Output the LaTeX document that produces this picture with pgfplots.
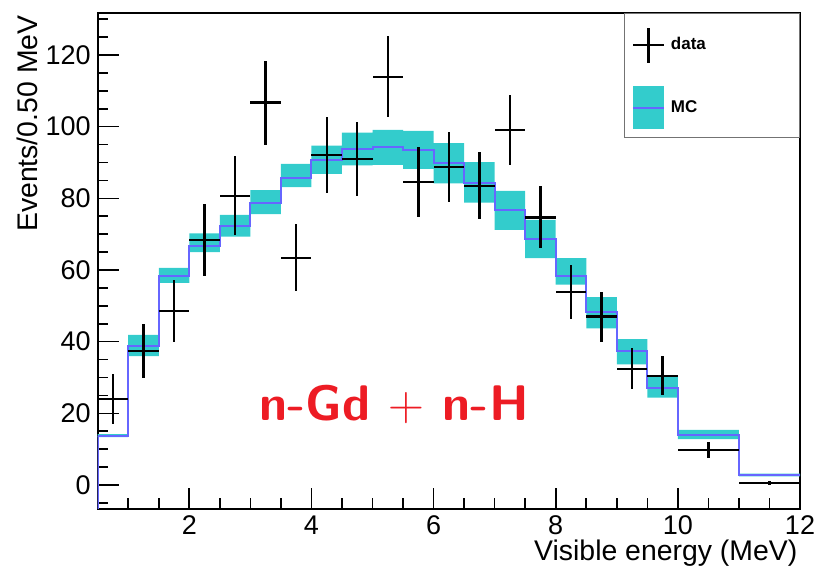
\documentclass[border=0pt]{standalone}
\usepackage{pgfplots}
\pgfplotsset{compat=1.18}
\usepackage{pgfplotstable}
\usepackage{fontspec}
\setmainfont{Liberation Sans}
\definecolor{mccyan}{RGB}{51,204,204}
\definecolor{mcblue}{RGB}{102,102,255}
\definecolor{gdred}{RGB}{237,28,36}

\pgfplotstableread{
x     y      ex    ey
0.75  24.0   0.25  7.0
1.25  37.4   0.25  7.6
1.75  48.6   0.25  8.6
2.25  68.4   0.25  10.0
2.75  80.7   0.25  11.0
3.25  106.7  0.25  11.7
3.75  63.4   0.25  9.3
4.25  92.1   0.25  10.6
4.75  91.0   0.25  10.4
5.25  113.9  0.25  11.3
5.75  84.5   0.25  9.8
6.25  88.7   0.25  9.8
6.75  83.5   0.25  9.4
7.25  99.0   0.25  9.8
7.75  74.7   0.25  8.7
8.25  53.8   0.25  7.5
8.75  47.0   0.25  7.0
9.25  32.4   0.25  5.7
9.75  30.5   0.25  5.5
10.5  9.8    0.5   2.2
11.5  0.5    0.5   0.5
}\datatab

% MC central value (bin left edge; last row closes the last bin)
\pgfplotstableread{
x     mc
0.5   13.8
1.0   38.9
1.5   58.3
2.0   66.8
2.5   72.4
3.0   78.8
3.5   85.8
4.0   90.7
4.5   93.8
5.0   94.3
5.5   93.6
6.0   89.9
6.5   84.4
7.0   76.8
7.5   68.6
8.0   58.3
8.5   48.2
9.0   37.4
9.5   27.2
10.0  14.0
11.0  2.8
12.0  2.8
}\mctab

% MC uncertainty band outline: upper edge forward, lower edge backward
\pgfplotstableread{
x     y
0.5   14.2
1.0   14.2
1.0   41.9
1.5   41.9
1.5   60.6
2.0   60.6
2.0   70.2
2.5   70.2
2.5   75.4
3.0   75.4
3.0   82.3
3.5   82.3
3.5   89.6
4.0   89.6
4.0   94.7
4.5   94.7
4.5   98.3
5.0   98.3
5.0   99.1
5.5   99.1
5.5   98.8
6.0   98.8
6.0   95.4
6.5   95.4
6.5   90.1
7.0   90.1
7.0   82.1
7.5   82.1
7.5   74.0
8.0   74.0
8.0   63.3
8.5   63.3
8.5   52.4
9.0   52.4
9.0   40.7
9.5   40.7
9.5   30.7
10.0  30.7
10.0  15.4
11.0  15.4
11.0  3.2
12.0  3.2
12.0  2.4
11.0  2.4
11.0  12.8
10.0  12.8
10.0  24.4
9.5   24.4
9.5   33.7
9.0   33.7
9.0   43.7
8.5   43.7
8.5   55.9
8.0   55.9
8.0   63.3
7.5   63.3
7.5   71.2
7.0   71.2
7.0   78.8
6.5   78.8
6.5   84.2
6.0   84.2
6.0   88.2
5.5   88.2
5.5   89.3
5.0   89.3
5.0   89.2
4.5   89.2
4.5   86.8
4.0   86.8
4.0   83.1
3.5   83.1
3.5   75.6
3.0   75.6
3.0   69.3
2.5   69.3
2.5   65.0
2.0   65.0
2.0   56.4
1.5   56.4
1.5   36.0
1.0   36.0
1.0   13.4
0.5   13.4
}\bandtab

\begin{document}
\begin{tikzpicture}
\path[use as bounding box] (-48.85pt,-31pt) rectangle (360.7pt,254.55pt);
\begin{axis}[
  scale only axis, width=351.2pt, height=248.2pt,
  xmin=0.5, xmax=12, ymin=-6.7, ymax=131.8,
  axis line style={line width=1pt},
  tick align=inside, xtick pos=bottom, ytick pos=left,
  xtick={2,4,...,12}, ytick={0,20,...,120},
  minor xtick={0.5,1,...,12}, minor ytick={-5,0,...,130},
  major tick length=10.5pt, minor tick length=5.3pt,
  every tick/.style={black, line width=0.8pt},
  ticklabel style={font=\fontsize{13.5}{15}\selectfont},
  yticklabel style={anchor=east}, xticklabel style={anchor=north},
  /pgf/number format/assume math mode=true,
  xlabel={Visible energy (MeV)}, ylabel={Events/0.50 MeV},
  label style={font=\fontsize{14.2}{16}\selectfont},
  xlabel style={at={(axis description cs:0.9967,-0.1027)}, anchor=base east, inner sep=0pt},
  ylabel style={at={(axis description cs:-0.085,0.995)}, anchor=base east, inner sep=0pt},
  legend style={at={(rel axis cs:1,1)}, anchor=north east, draw=black!55, line width=0.5pt,
    fill=white, font=\fontsize{8.5}{10}\selectfont\bfseries,
    inner xsep=3.5pt, inner ysep=4pt, row sep=11.25pt,
    nodes={text width=58pt, inner sep=2.8pt}},
  legend cell align=left,
]
\addlegendimage{legend image code/.code={
  \draw[draw=black, fill=none, line width=1.2pt] (0pt,0pt) -- (15.5pt,0pt);
  \draw[draw=black, fill=none, line width=1.2pt] (7.75pt,-8.75pt) -- (7.75pt,8.75pt);
  \path[draw=none, fill=none] (0pt,-8.75pt) rectangle (15.5pt,12pt);
}}
\addlegendentry{data}
\addlegendimage{legend image code/.code={
  \path[fill=mccyan, draw=none] (0pt,-10.75pt) rectangle (15.5pt,10.75pt);
  \draw[draw=mcblue, fill=none, line width=0.8pt] (0pt,0pt) -- (15.5pt,0pt);
}}
\addlegendentry{MC}

\addplot[fill=mccyan, draw=none, forget plot] table[x=x,y=y]{\bandtab} -- cycle;

\addplot[mcblue, line width=1pt, forget plot] coordinates {(0.5,-6.7) (0.5,13.8)};
\addplot[mcblue, line width=1pt, const plot mark left, forget plot] table[x=x,y=mc]{\mctab};

\addplot[draw=none, no markers, forget plot,
  error bars/.cd, x dir=both, x explicit, y dir=both, y explicit, error mark=none,
  error bar style={draw=black, line width=1.2pt}]
  table[x=x,y=y,x error=ex,y error=ey]{\datatab};

\node[font=\sffamily\bfseries\fontsize{25}{30}\selectfont, text=gdred, anchor=base]
  at (axis cs:5.35,18.1) {n-Gd $+$ n-H};
\end{axis}
\end{tikzpicture}
\end{document}
